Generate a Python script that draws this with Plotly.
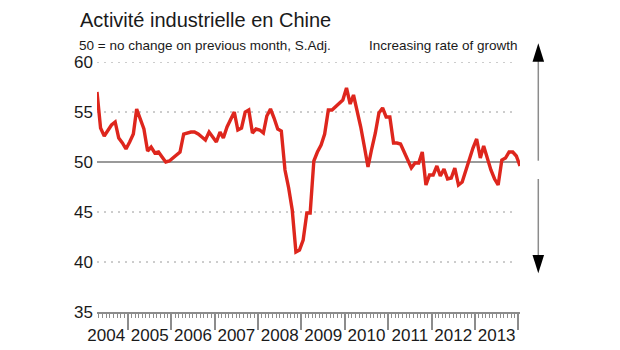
import pandas as pd
import plotly.graph_objects as go

# HSBC China manufacturing PMI, monthly (Apr 2004 - Jan 2014)
pmi_2004 = [57.0, 53.4, 52.6, 53.2, 53.7, 54.0, 52.4, 51.9, 51.3]  # Apr-Dec
pmi_2005 = [52.0, 52.8, 55.3, 54.2, 53.3, 51.1, 51.5, 50.9, 51.0, 50.5, 50.0, 50.1]
pmi_2006 = [50.4, 50.7, 51.0, 52.8, 52.9, 53.0, 53.0, 52.8, 52.5, 52.2, 53.0, 52.5]
pmi_2007 = [52.0, 53.0, 52.4, 53.5, 54.2, 55.0, 53.2, 53.4, 55.0, 55.2, 52.9, 53.3]
pmi_2008 = [53.2, 52.9, 54.6, 55.3, 54.4, 53.3, 53.1, 49.2, 47.4, 45.2, 41.0, 41.2]
pmi_2009 = [42.2, 44.9, 44.9, 50.1, 51.0, 51.7, 52.8, 55.2, 55.2, 55.5, 55.8, 56.2]
pmi_2010 = [57.4, 55.8, 56.7, 55.2, 53.5, 51.5, 49.5, 51.3, 52.9, 54.9, 55.4, 54.5]
pmi_2011 = [54.5, 51.9, 51.9, 51.8, 50.9, 50.2, 49.4, 49.9, 49.9, 51.0, 47.7, 48.7]
pmi_2012 = [48.7, 49.6, 48.6, 49.3, 48.3, 48.4, 49.4, 47.7, 48.0, 49.2, 50.4, 51.4]
pmi_2013 = [52.3, 50.4, 51.6, 50.4, 49.2, 48.3, 47.7, 50.2, 50.4, 51.0, 51.0, 50.6]
pmi_2014 = [49.6]  # Jan

pmi = (pmi_2004 + pmi_2005 + pmi_2006 + pmi_2007 + pmi_2008 + pmi_2009
       + pmi_2010 + pmi_2011 + pmi_2012 + pmi_2013 + pmi_2014)
first_month = "2004-04-01"
months = pd.date_range(first_month, periods=len(pmi), freq="MS") + pd.Timedelta(days=14)

y_ticks = [35, 40, 45, 50, 55, 60]
grid_values = [40, 45, 55, 60]

title_text = "Activité industrielle en Chine"
subtitle_text = "50 = no change on previous month, S.Adj."
right_note = "Increasing rate of growth"

FONT = "Liberation Sans, Arial, Helvetica, sans-serif"
RED = "#de261d"
GREY = "#8c8c8c"

W, H = 620, 350
L, R, T, B = 97, 100, 62, 38
pw, ph = W - L - R, H - T - B


def px(x):
    return (x - L) / pw


def py(y):
    return (H - B - y) / ph


fig = go.Figure()
fig.add_trace(go.Scatter(x=months, y=pmi, mode="lines",
                         line=dict(color=RED, width=3.4), hoverinfo="skip"))

shapes = []
# solid 50 line
shapes.append(dict(type="line", xref="paper", yref="y", x0=0, x1=px(517), y0=50, y1=50,
                   line=dict(color="#9a9a9a", width=2), layer="below"))
for g in grid_values:
    shapes.append(dict(type="line", xref="paper", yref="y", x0=0, x1=px(517), y0=g, y1=g,
                       line=dict(color="#9a9a9a", width=1, dash="2px,5px"), layer="below"))

# growth arrows
ax = 538.3
shapes.append(dict(type="line", xref="paper", yref="paper", x0=px(ax), x1=px(ax),
                   y0=py(160.7), y1=py(60), line=dict(color=GREY, width=1.5)))
shapes.append(dict(type="line", xref="paper", yref="paper", x0=px(ax), x1=px(ax),
                   y0=py(179), y1=py(257), line=dict(color=GREY, width=1.5)))
hw = 5.8
shapes.append(dict(type="path", xref="paper", yref="paper",
                   path=f"M {px(ax - hw)},{py(61.7)} L {px(ax + hw)},{py(61.7)} L {px(ax)},{py(43.3)} Z",
                   fillcolor="black", line=dict(width=0)))
shapes.append(dict(type="path", xref="paper", yref="paper",
                   path=f"M {px(ax - hw)},{py(255)} L {px(ax + hw)},{py(255)} L {px(ax)},{py(273.3)} Z",
                   fillcolor="black", line=dict(width=0)))

annotations = [
    dict(text=title_text, xref="paper", yref="paper", x=px(78), y=py(20),
         xanchor="left", yanchor="middle", showarrow=False,
         font=dict(family=FONT, size=20, color="#1a1a1a")),
    dict(text=subtitle_text, xref="paper", yref="paper", x=px(77), y=py(46),
         xanchor="left", yanchor="middle", showarrow=False,
         font=dict(family=FONT, size=13.5, color="#1a1a1a")),
    dict(text=right_note, xref="paper", yref="paper", x=px(520), y=py(46),
         xanchor="right", yanchor="middle", showarrow=False,
         font=dict(family=FONT, size=13.5, color="#1a1a1a")),
]

fig.update_layout(
    width=W, height=H, margin=dict(l=L, r=R, t=T, b=B, pad=0, autoexpand=False),
    paper_bgcolor="white", plot_bgcolor="white", showlegend=False,
    shapes=shapes, annotations=annotations,
    xaxis=dict(type="date", range=["2004-04-15", "2014-01-15"], automargin=False,
               tick0="2004-01-01", dtick="M12", tickformat="%Y",
               ticklabelmode="period", ticks="outside", ticklen=16, tickwidth=1.5,
               tickcolor=GREY, showline=True, linecolor=GREY, linewidth=1.5,
               showgrid=False, zeroline=False, ticklabelstandoff=-9,
               tickfont=dict(family=FONT, size=17, color="#1a1a1a"),
               minor=dict(dtick="M1", tick0="2004-01-01", ticks="outside",
                          ticklen=4, tickwidth=1, tickcolor=GREY, showgrid=False)),
    yaxis=dict(range=[35, 60], tickvals=y_ticks, showgrid=False, zeroline=False,
               showline=False, ticks="", ticklabelstandoff=3, automargin=False,
               tickfont=dict(family=FONT, size=17, color="#1a1a1a")),
)

fig.write_html("out.html")
